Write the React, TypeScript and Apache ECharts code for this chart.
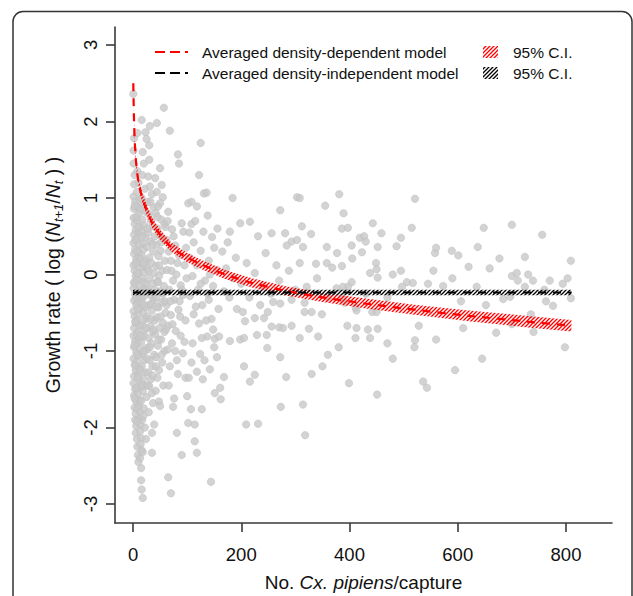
import React, { useEffect, useRef } from "react";
import * as echarts from "echarts";

const xTicks = [0, 200, 400, 600, 800];
const yTicks = [-3, -2, -1, 0, 1, 2, 3];
const xRange = [-33.3, 885];
const yRange = [-3.248, 3.235];

// observed points [No. Cx. pipiens / capture, growth rate]
const ptsX0to6 = [
  [0.5, 2.36], [1, 1.62], [2, 1.78], [1, 1.45], [3, 1.3], [2, 1.18], [1, 1.02], [4, 0.95], [2, 0.86], [1, 0.74],
  [3, 0.66], [5, 0.58], [2, 0.52], [1, 0.41], [4, 0.33], [2, 0.27], [6, 0.2], [1, 0.12], [3, 0.05], [5, -0.02],
  [2, -0.1], [1, -0.18], [4, -0.26], [2, -0.34], [6, -0.4], [1, -0.48], [3, -0.55], [5, -0.63], [2, -0.7], [1, -0.8],
  [4, -0.87], [2, -0.95], [6, -1.02], [1, -1.1], [3, -1.18], [5, -1.25], [2, -1.33], [1, -1.42], [4, -1.5], [2, -1.58],
  [6, -1.66], [3, -1.74], [5, -1.82], [4, -1.9], [6, -1.98], [5, -2.07], [7, -2.15], [8, -2.25], [9, -2.36], [10, -2.45],
];
const ptsX7to14 = [
  [8, 1.35], [10, 1.2], [7, 1.08], [12, 0.98], [9, 0.88], [11, 0.8], [8, 0.7], [13, 0.62], [10, 0.55], [7, 0.47],
  [12, 0.4], [9, 0.31], [11, 0.24], [8, 0.16], [13, 0.09], [10, 0.01], [7, -0.06], [12, -0.14], [9, -0.22], [11, -0.3],
  [8, -0.37], [14, -0.44], [10, -0.52], [7, -0.6], [12, -0.67], [9, -0.75], [11, -0.83], [8, -0.9], [13, -0.98], [10, -1.06],
  [7, -1.14], [12, -1.22], [9, -1.3], [11, -1.38], [14, -1.46], [10, -1.55], [12, -1.64], [11, -1.72], [13, -1.8], [12, -1.88],
  [14, -1.97], [13, -2.05], [15, -2.14], [14, -2.22], [16, -2.3], [13, -2.4], [15, -2.53], [15, -2.69], [16, -2.81], [18, -2.92],
];
const ptsX15to25 = [
  [16, 2.02], [23, 1.86], [8, 1.85], [25, 1.77], [18, 1.6], [20, 1.45], [17, 1.3], [22, 1.12], [16, 1.0], [19, 0.9],
  [24, 0.82], [17, 0.72], [21, 0.64], [15, 0.56], [23, 0.48], [18, 0.4], [20, 0.33], [16, 0.25], [25, 0.18], [19, 0.1],
  [22, 0.03], [17, -0.05], [24, -0.12], [18, -0.2], [21, -0.28], [16, -0.35], [23, -0.43], [19, -0.5], [25, -0.58], [17, -0.66],
  [22, -0.73], [20, -0.81], [15, -0.88], [24, -0.96], [18, -1.04], [21, -1.12], [16, -1.2], [23, -1.28], [19, -1.36], [22, -1.45],
  [18, -1.53], [25, -1.6], [20, -1.75], [17, -1.9], [22, -2.0], [18, -2.32], [24, -2.15],
];
const ptsX26to40 = [
  [31, 1.94], [30, 1.69], [30, 1.5], [28, 1.28], [31, 1.15], [35, 1.05], [27, 0.95], [38, 0.88], [29, 0.79], [33, 0.71],
  [36, 0.63], [28, 0.55], [40, 0.5], [32, 0.43], [26, 0.36], [37, 0.3], [30, 0.22], [34, 0.15], [27, 0.08], [39, 0.02],
  [31, -0.05], [36, -0.12], [28, -0.2], [33, -0.27], [38, -0.33], [30, -0.4], [35, -0.47], [26, -0.55], [40, -0.6], [32, -0.68],
  [37, -0.75], [29, -0.83], [34, -0.9], [27, -0.98], [39, -1.05], [31, -1.12], [36, -1.2], [28, -1.28], [33, -1.37], [30, -1.46],
  [35, -1.55], [37, -1.68], [35, -2.07], [35, -2.33], [39, -1.96], [29, -1.8],
];
const ptsX40to60 = [
  [44, 1.98], [57, 2.18], [41, 1.26], [50, 1.39], [53, 1.17], [44, 1.08], [55, 1.01], [50, 0.93], [46, 0.89], [42, 0.8],
  [52, 0.72], [58, 0.66], [45, 0.6], [49, 0.52], [56, 0.46], [43, 0.39], [51, 0.31], [47, 0.24], [59, 0.18], [42, 0.11],
  [54, 0.05], [48, -0.02], [45, -0.09], [57, -0.15], [50, -0.22], [43, -0.3], [53, -0.36], [47, -0.43], [60, -0.5], [44, -0.56],
  [55, -0.63], [49, -0.7], [41, -0.78], [52, -0.85], [46, -0.93], [58, -1.0], [43, -1.08], [54, -1.15], [48, -1.25], [45, -1.35],
  [56, -1.45], [48, -1.66], [50, -1.72], [42, -1.52],
];
const ptsX60to100 = [
  [68, 1.88], [83, 1.57], [85, 1.45], [65, 0.82], [72, 0.59], [90, 0.67], [93, 0.56], [62, 0.45], [78, 0.38], [66, 0.3],
  [85, 0.25], [70, 0.18], [95, 0.12], [63, 0.06], [80, 0.0], [74, -0.08], [88, -0.14], [67, -0.2], [92, -0.27], [76, -0.33],
  [62, -0.4], [84, -0.46], [70, -0.53], [97, -0.6], [65, -0.67], [79, -0.74], [88, -0.8], [72, -0.9], [64, -0.98], [92, -1.03],
  [81, -1.12], [68, -1.2], [76, -1.62], [74, -1.73], [65, -2.65], [70, -2.86], [90, -2.36], [81, -2.07], [100, -1.59], [97, -1.35],
  [86, -0.35], [99, -0.05], [60, 0.62],
];
const ptsX100to160 = [
  [125, 1.72], [122, 1.3], [131, 1.06], [136, 1.07], [102, 0.93], [108, 0.95], [118, 0.89], [138, 0.77], [108, 0.66], [130, 0.56],
  [146, 0.49], [112, 0.42], [150, 0.35], [125, 0.31], [104, 0.22], [140, 0.18], [118, 0.12], [155, 0.06], [110, -0.02], [133, -0.08],
  [148, -0.15], [120, -0.2], [105, -0.28], [140, -0.33], [128, -0.4], [158, -0.45], [112, -0.52], [145, -0.58], [122, -0.64], [137, -0.81],
  [127, -0.83], [148, -0.72], [151, -0.84], [124, -1.04], [155, -1.08], [118, -1.27], [142, -1.24], [129, -1.37], [103, -1.35], [107, -1.76],
  [127, -1.76], [151, -1.55], [114, -2.18], [118, -2.33], [102, -1.94], [114, -1.96], [144, -2.71], [110, -0.9], [135, -0.6],
];
const ptsX160to300 = [
  [184, 1.0], [272, 0.84], [303, 1.01], [198, 0.67], [216, 0.69], [179, 0.56], [175, 0.42], [231, 0.5], [256, 0.54], [281, 0.54],
  [293, 0.43], [284, 0.38], [303, 0.45], [165, 0.3], [190, 0.22], [210, 0.15], [245, 0.28], [265, 0.12], [172, 0.08], [225, 0.02],
  [288, 0.05], [185, -0.05], [200, -0.12], [240, -0.15], [270, -0.08], [168, -0.22], [215, -0.3], [255, -0.25], [192, -0.45], [203, -0.49],
  [259, -0.36], [272, -0.38], [249, -0.49], [293, -0.33], [207, -0.61], [225, -0.57], [242, -0.57], [229, -0.79], [247, -0.79], [198, -0.85],
  [205, -0.83], [179, -0.87], [159, -0.81], [256, -0.68], [270, -0.69], [277, -0.7], [293, -0.67], [248, -0.96], [272, -1.08], [205, -1.2],
  [225, -1.31], [216, -1.4], [283, -1.34], [273, -1.73], [168, -1.34], [161, -1.48], [162, -1.63], [209, -1.96], [231, -1.95], [178, -0.3],
  [235, -0.4], [300, -0.2],
];
const ptsX300to810 = [
  [308, 1.0], [381, 1.05], [521, 0.99], [355, 0.9], [389, 0.8], [312, 0.63], [443, 0.67], [459, 0.54], [386, 0.6], [397, 0.61],
  [329, 0.53], [515, 0.61], [648, 0.61], [700, 0.65], [756, 0.52], [419, 0.48], [427, 0.5], [430, 0.43], [495, 0.48], [314, 0.36],
  [358, 0.36], [404, 0.38], [452, 0.36], [487, 0.37], [423, 0.29], [377, 0.28], [405, 0.21], [558, 0.28], [560, 0.35], [589, 0.31],
  [601, 0.25], [637, 0.36], [677, 0.21], [724, 0.23], [809, 0.18], [358, 0.15], [338, 0.14], [386, 0.11], [368, 0.09], [308, 0.15],
  [449, 0.15], [450, 0.07], [438, 0.02], [452, -0.04], [495, 0.05], [480, 0.0], [659, 0.08], [700, -0.02], [709, 0.02], [711, -0.08],
  [730, 0.0], [739, -0.08], [770, -0.08], [803, -0.05], [794, -0.12], [809, -0.31], [776, -0.41], [763, -0.35], [724, -0.16], [684, -0.32],
  [697, -0.29], [735, -0.52], [671, -0.76], [798, -0.95], [635, -0.16], [606, -0.35], [652, -0.4], [573, -0.15], [545, -0.12], [506, -0.1],
  [517, -0.11], [497, -0.16], [528, -0.67], [521, -0.86], [452, -0.71], [434, -0.72], [438, -0.83], [411, -0.83], [413, -0.7], [396, -0.67],
  [349, -0.52], [325, -0.71], [342, -0.81], [308, -0.83], [442, -0.49], [450, -0.49], [413, -0.47], [404, -0.1], [397, -0.16], [388, -0.16],
  [376, -0.18], [321, -0.16], [317, -0.37], [330, -0.49], [317, -0.49], [391, -0.37], [387, -0.31], [411, -0.43],
  [318, -2.1], [314, -1.7], [330, -1.3], [360, -1.05], [399, -1.42], [451, -1.57], [536, -1.4], [543, -1.48], [480, -1.1], [595, -1.25],
  [645, -1.1], [520, -0.95], [560, -0.85], [610, -0.7], [700, -0.65], [740, -0.75], [350, -1.2], [470, -0.9], [380, -0.95], [760, -0.2],
  [590, -0.05], [620, 0.1], [555, 0.05], [470, -0.3], [430, -0.25], [360, -0.3], [340, -0.05],
];
const ptsDenseExtra = [
  [3, 0.9], [6, 0.75], [9, 0.62], [4, 0.45], [7, 0.3], [5, 0.15], [8, 0.02], [3, -0.12], [6, -0.3], [9, -0.45],
  [4, -0.62], [7, -0.78], [3, -0.92], [8, -1.05], [5, -1.2], [9, -1.35], [6, -1.48], [3, -1.62], [8, -1.75], [7, -1.92],
  [14, 0.85], [17, 0.5], [13, 0.2], [19, -0.1], [15, -0.3], [18, -0.6], [14, -0.8], [20, -1.0], [13, -1.25], [17, -1.45],
  [15, -1.65], [19, -1.85], [21, -0.4], [24, -0.7], [26, -1.1], [23, -0.2], [20, 0.15], [27, 0.6],
  [32, 0.95], [36, 0.4], [29, 0.05], [34, -0.38], [38, -0.72], [31, -0.95], [36, -1.32], [40, -0.2], [33, -0.58], [27, -1.45],
  [45, 0.75], [52, 0.42], [48, 0.12], [55, -0.25], [44, -0.42], [58, -0.75], [47, -0.85], [53, -1.05], [42, -1.2], [59, -0.35],
  [51, -0.55], [46, -0.1], [64, 0.7], [75, 0.5], [82, 0.15], [69, -0.35], [87, -0.55], [73, -0.65], [95, -0.88], [78, -1.0],
  [66, -1.45], [83, -1.3], [90, -0.2], [61, -0.72], [98, 0.35], [71, 0.05], [104, 0.55], [115, 0.7], [125, -0.12], [138, -0.25],
  [116, -0.42], [150, -0.95], [132, -1.12], [108, -1.15], [142, 0.0], [156, 0.6],
];

// averaged density-dependent model with 95% C.I.
const ddX = [0.5, 1, 2, 3, 5, 8, 12, 18, 25, 35, 50, 70, 100, 130, 170, 220, 280, 350, 430, 520, 620, 720, 810];
const ddY = [2.5, 2.3, 1.97, 1.77, 1.52, 1.31, 1.14, 0.98, 0.85, 0.68, 0.52, 0.36, 0.22, 0.12, 0.0, -0.11, -0.21, -0.3, -0.38, -0.46, -0.54, -0.61, -0.67];
const ddLo = [2.48, 2.27, 1.93, 1.72, 1.47, 1.255, 1.08, 0.915, 0.785, 0.615, 0.455, 0.3, 0.16, 0.06, -0.06, -0.17, -0.27, -0.36, -0.445, -0.525, -0.61, -0.685, -0.745];
const ddHi = [2.52, 2.33, 2.01, 1.82, 1.57, 1.365, 1.2, 1.045, 0.915, 0.745, 0.585, 0.42, 0.28, 0.18, 0.06, -0.05, -0.15, -0.24, -0.315, -0.395, -0.47, -0.535, -0.595];

// averaged density-independent model with 95% C.I.
const diX = [0, 810];
const diY = [-0.235, -0.235];
const diLo = [-0.27, -0.27];
const diHi = [-0.2, -0.2];

const FONT = "'Liberation Sans', Arial, Helvetica, sans-serif";
const AXIS_COLOR = "#3a3a3a";

function hatch(color: string) {
  const c = document.createElement("canvas");
  c.width = 4;
  c.height = 4;
  const g = c.getContext("2d")!;
  g.strokeStyle = color;
  g.lineWidth = 1.3;
  g.beginPath();
  g.moveTo(0, 4);
  g.lineTo(4, 0);
  g.moveTo(-1, 1);
  g.lineTo(1, -1);
  g.moveTo(3, 5);
  g.lineTo(5, 3);
  g.stroke();
  return { image: c, repeat: "repeat", imageWidth: 4, imageHeight: 4 } as any;
}

function bandSeries(xs: number[], lo: number[], hi: number[], fill: any) {
  const data = xs.map((x, i) => [x, lo[i], hi[i]]);
  return {
    type: "custom",
    data,
    clip: false,
    silent: true,
    z: 2,
    encode: { x: 0, y: [1, 2] },
    renderItem: (params: any, api: any) => {
      if (params.dataIndex !== 0) return null;
      const upper = data.map((d) => api.coord([d[0], d[2]]));
      const lower = data.map((d) => api.coord([d[0], d[1]])).reverse();
      return {
        type: "polygon",
        shape: { points: upper.concat(lower) },
        style: { fill, stroke: "none" },
      };
    },
  };
}

export default function App() {
  const ref = useRef<HTMLDivElement>(null);
  useEffect(() => {
    if (!ref.current) return;
    const chart = echarts.init(ref.current, null, { renderer: "svg" });
    const points = [
      ...ptsX0to6, ...ptsX7to14, ...ptsX15to25, ...ptsX26to40, ...ptsX40to60,
      ...ptsX60to100, ...ptsX100to160, ...ptsX160to300, ...ptsX300to810, ...ptsDenseExtra,
    ];
    const pair = (xs: number[], ys: number[]) => xs.map((x, i) => [x, ys[i]]);

    const option: any = {
      animation: false,
      textStyle: { fontFamily: FONT },
      grid: { left: 115, right: 21, top: 27, bottom: 73, containLabel: false, outerBoundsMode: "none" },
      xAxis: {
        type: "value", min: xRange[0], max: xRange[1],
        axisLine: { show: true, onZero: false, lineStyle: { color: AXIS_COLOR, width: 1.6 } },
        axisTick: { show: true, customValues: xTicks, length: 9, lineStyle: { color: AXIS_COLOR, width: 1.6 } },
        axisLabel: { show: true, customValues: xTicks, fontSize: 18.5, color: "#111", margin: 22, fontFamily: FONT },
        splitLine: { show: false },
        name: "No. {i|Cx. pipiens}/capture",
        nameLocation: "middle", nameGap: 50,
        nameTextStyle: {
          fontSize: 19, color: "#111", fontFamily: FONT,
          rich: { i: { fontSize: 19, fontStyle: "italic", color: "#111", fontFamily: FONT } },
        },
      },
      yAxis: {
        type: "value", min: yRange[0], max: yRange[1],
        axisLine: { show: true, onZero: false, lineStyle: { color: AXIS_COLOR, width: 1.6 } },
        axisTick: { show: true, customValues: yTicks, length: 9, lineStyle: { color: AXIS_COLOR, width: 1.6 } },
        axisLabel: { show: true, customValues: yTicks, fontSize: 18.5, color: "#111", margin: 15, rotate: 90, fontFamily: FONT },
        splitLine: { show: false },
        name: "Growth rate ( log ({n|N}{s|t+1}/{n|N}{s|t} ) )",
        nameLocation: "middle", nameGap: 62, nameRotate: 90,
        nameTextStyle: {
          fontSize: 19.5, color: "#111", fontFamily: FONT, lineHeight: 24, verticalAlign: "middle",
          rich: {
            n: { fontSize: 19.5, fontStyle: "italic", color: "#111", fontFamily: FONT, lineHeight: 24 },
            s: { fontSize: 13, fontStyle: "italic", color: "#111", fontFamily: FONT, lineHeight: 12, verticalAlign: "bottom" },
          },
        },
      },
      series: [
        {
          type: "scatter", data: points, symbol: "circle", symbolSize: 7.5,
          itemStyle: { color: "#c8c8c8", borderColor: "#bdbdbd", borderWidth: 0.6 }, clip: false, z: 1,
        },
        bandSeries(ddX, ddLo, ddHi, hatch("#ff0000")),
        bandSeries(diX, diLo, diHi, hatch("#000000")),
        {
          type: "line", data: pair(ddX, ddY), symbol: "none", smooth: 0.2,
          lineStyle: { color: "#ff0000", width: 2.2, type: [8, 7] }, clip: false, z: 3,
        },
        {
          type: "line", data: pair(diX, diY), symbol: "none",
          lineStyle: { color: "#000000", width: 2.2, type: [8, 7] }, clip: false, z: 3,
        },
      ],
      graphic: [
        {
          type: "rect", silent: true,
          shape: { x: 13, y: 11.5, width: 619, height: 700, r: 10 },
          style: { fill: "none", stroke: "#333", lineWidth: 1.5 },
        },
        { type: "line", shape: { x1: 155, y1: 52, x2: 188, y2: 52 }, style: { stroke: "#ff0000", lineWidth: 2, lineDash: [10, 5] } },
        { type: "text", x: 202, y: 52, style: { text: "Averaged density-dependent model", fontSize: 15.5, fontFamily: FONT, fill: "#111", verticalAlign: "middle" } },
        { type: "rect", shape: { x: 483, y: 46, width: 15, height: 12 }, style: { fill: hatch("#ff0000"), stroke: "none" } },
        { type: "text", x: 513, y: 52, style: { text: "95% C.I.", fontSize: 15.5, fontFamily: FONT, fill: "#111", verticalAlign: "middle" } },
        { type: "line", shape: { x1: 155, y1: 73, x2: 188, y2: 73 }, style: { stroke: "#000000", lineWidth: 2, lineDash: [10, 5] } },
        { type: "text", x: 202, y: 73, style: { text: "Averaged density-independent model", fontSize: 15.5, fontFamily: FONT, fill: "#111", verticalAlign: "middle" } },
        { type: "rect", shape: { x: 483, y: 67, width: 15, height: 12 }, style: { fill: hatch("#000000"), stroke: "none" } },
        { type: "text", x: 513, y: 73, style: { text: "95% C.I.", fontSize: 15.5, fontFamily: FONT, fill: "#111", verticalAlign: "middle" } },
      ],
    };
    chart.setOption(option);
    return () => chart.dispose();
  }, []);
  return (
    <div
      ref={ref}
      style={{ position: "fixed", left: 0, top: 0, width: 633, height: 596, background: "#fff" }}
    />
  );
}
